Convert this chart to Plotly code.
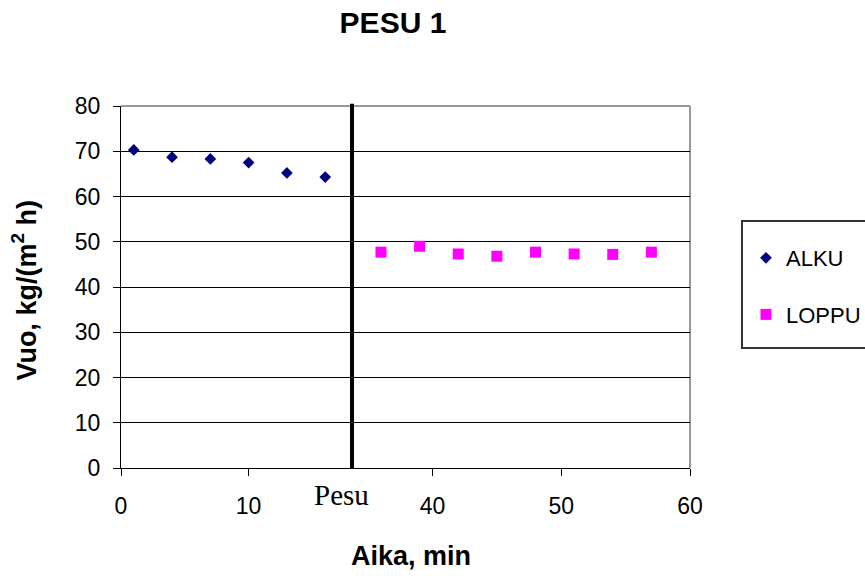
import plotly.graph_objects as go

# Flux measurements before and after the wash ("Pesu")
alku_time = [1, 4, 7, 10, 13, 16]
alku_flux = [70.3, 68.7, 68.3, 67.5, 65.2, 64.3]

loppu_time = [36, 39, 42, 45, 48, 51, 54, 57]
loppu_flux = [47.7, 49.0, 47.3, 46.8, 47.7, 47.3, 47.2, 47.7]

y_ticks = [0, 10, 20, 30, 40, 50, 60, 70, 80]
left_ticks = [0, 10]
right_ticks = [40, 50, 60]

# The wash period is cut out of the time axis: left part ends and right part starts at the break
left_end = 18.1
right_start = 33.75
split = 0.406

tick_font = dict(family="Liberation Sans, Arial, sans-serif", size=23, color="black")

fig = go.Figure()
fig.add_trace(go.Scatter(
    x=alku_time, y=alku_flux, mode="markers", name="ALKU",
    legendgroup="a", xaxis="x", yaxis="y",
    marker=dict(symbol="diamond", size=9, color="#000080"),
))
fig.add_trace(go.Scatter(
    x=loppu_time, y=loppu_flux, mode="markers", name="LOPPU",
    legendgroup="b", xaxis="x2", yaxis="y",
    marker=dict(symbol="square", size=11, color="#FF00FF"),
))

axis_common = dict(
    showgrid=False, zeroline=False, showline=True, linecolor="black", linewidth=1,
    ticks="outside", ticklen=7, tickcolor="black", tickwidth=1,
    tickfont=tick_font, anchor="y", ticklabelstandoff=10,
)

fig.update_layout(
    width=865, height=576,
    margin=dict(l=121, r=175, t=106, b=108),
    paper_bgcolor="white", plot_bgcolor="white",
    xaxis=dict(domain=[0, split], range=[0, left_end], tickvals=left_ticks, **axis_common),
    xaxis2=dict(domain=[split, 1], range=[right_start, 60], tickvals=right_ticks, **axis_common),
    yaxis=dict(
        range=[0, 80], tickvals=y_ticks, showgrid=True, gridcolor="black", gridwidth=1,
        zeroline=False, showline=True, linecolor="black", linewidth=1,
        ticks="outside", ticklen=7, tickcolor="black", tickfont=tick_font,
        ticklabelstandoff=8,
    ),
    title=dict(
        text="<b>PESU 1</b>", x=0.478, xref="paper", xanchor="center",
        y=1 - 22 / 576, yref="container", yanchor="middle",
        font=dict(family="Liberation Sans, Arial, sans-serif", size=30, color="black"),
    ),
    showlegend=True,
    legend=dict(
        xref="container", yref="container",
        x=746 / 865, xanchor="left", y=1 - 237 / 576, yanchor="top",
        bgcolor="rgba(0,0,0,0)", borderwidth=0,
        traceorder="grouped", tracegroupgap=25,
        font=dict(family="Liberation Sans, Arial, sans-serif", size=22, color="black"),
    ),
)

# plot-area border on top and right, wash marker line, legend frame
fig.add_shape(type="line", xref="paper", yref="paper", x0=0, x1=1, y0=1, y1=1,
              line=dict(color="#999999", width=2), layer="between")
fig.add_shape(type="line", xref="paper", yref="paper", x0=1, x1=1, y0=0, y1=1,
              line=dict(color="#999999", width=2), layer="between")
fig.add_shape(type="line", xref="paper", yref="paper", x0=split, x1=split, y0=0, y1=1.006,
              line=dict(color="black", width=4), layer="above")
fig.add_shape(type="rect", xref="paper", yref="paper", x0=1.0914, x1=1.35, y0=0.3315, y1=0.682,
              line=dict(color="#333333", width=2), fillcolor="rgba(0,0,0,0)")

fig.add_annotation(text="Pesu", xref="paper", yref="paper", x=0.388, y=0, yanchor="middle",
                   xanchor="center", yshift=-27, showarrow=False,
                   font=dict(family="Liberation Serif, Times New Roman, serif", size=29, color="black"))
fig.add_annotation(text="<b>Aika, min</b>", xref="paper", yref="paper", x=0.509, y=0,
                   xanchor="center", yanchor="middle", yshift=-88, showarrow=False,
                   font=dict(family="Liberation Sans, Arial, sans-serif", size=27, color="black"))
fig.add_annotation(text="<b>Vuo, kg/(m<sup>2</sup> h)</b>", xref="paper", yref="paper",
                   x=0, y=0.49, xanchor="center", yanchor="middle", xshift=-97,
                   textangle=-90, showarrow=False,
                   font=dict(family="Liberation Sans, Arial, sans-serif", size=27, color="black"))

fig.write_html("out.html")
